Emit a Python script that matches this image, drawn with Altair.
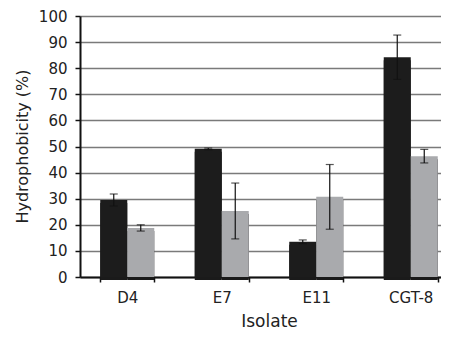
import altair as alt
import pandas as pd

isolates = ["D4", "E7", "E11", "CGT-8"]
series_names = ["A", "B"]
black_vals = [29.5, 49.1, 13.5, 84.2]
black_err = [2.3, 0.3, 0.7, 8.5]
gray_vals = [18.8, 25.3, 30.7, 46.3]
gray_err = [1.2, 10.7, 12.4, 2.6]
y_ticks = list(range(0, 101, 10))

rows = []
for i, iso in enumerate(isolates):
    rows.append({"iso": iso, "s": "A", "v": black_vals[i], "lo": black_vals[i] - black_err[i], "hi": black_vals[i] + black_err[i]})
    rows.append({"iso": iso, "s": "B", "v": gray_vals[i], "lo": gray_vals[i] - gray_err[i], "hi": gray_vals[i] + gray_err[i]})
df = pd.DataFrame(rows)

FONT = "DejaVu Sans"
xscale = alt.Scale(domain=isolates, range=[0, 378], paddingInner=0.4286, paddingOuter=0.2143)
xoff = alt.XOffset("s:N", scale=alt.Scale(domain=series_names, paddingInner=0, paddingOuter=0))
yscale = alt.Scale(domain=[0, 100], nice=False, zero=True)

x_axis = alt.Axis(title="Isolate", labelAngle=0, tickBand="extent", tickSize=5,
                  tickWidth=1.5, tickColor="#111", domainColor="#111", domainWidth=2,
                  labelFont=FONT, labelFontSize=15, labelColor="#222", labelPadding=8,
                  titleFont=FONT, titleFontSize=17, titleFontWeight="normal", titleColor="#222",
                  titleX=189, titleY=44, titleAlign="center", titleBaseline="middle",
                  grid=False)
y_axis = alt.Axis(title="Hydrophobicity (%)", values=y_ticks, labelOverlap=False,
                  tickSize=5, tickWidth=1.5,
                  tickColor="#111", domainColor="#111", domainWidth=2,
                  labelFont=FONT, labelFontSize=15, labelColor="#222", labelPadding=8,
                  titleFont=FONT, titleFontSize=16, titleFontWeight="normal", titleColor="#222",
                  titleAngle=-90, titleX=-58, titleY=130, titleAlign="center",
                  titleBaseline="middle",
                  grid=True, gridColor="#7a7a7a", gridWidth=1.5)

x_enc = alt.X("iso:N", scale=xscale, sort=isolates, axis=x_axis)
y_enc = alt.Y("v:Q", scale=yscale, axis=y_axis)

color = alt.Color("s:N", scale=alt.Scale(domain=series_names, range=["#1c1c1c", "#a9aaad"]), legend=None)

base = alt.Chart(df)
shadow = base.mark_bar(color="#1a1a1a", xOffset=3, yOffset=3).encode(
    x=x_enc, xOffset=xoff, y=y_enc)
bars = base.mark_bar().encode(x=x_enc, xOffset=xoff, y=y_enc, color=color)
rules = base.mark_rule(color="#111", strokeWidth=1.2).encode(
    x=x_enc, xOffset=xoff, y=alt.Y("lo:Q", scale=yscale, axis=y_axis), y2="hi:Q")
caps_hi = base.mark_tick(color="#111", size=8, thickness=1.2).encode(
    x=x_enc, xOffset=xoff, y=alt.Y("hi:Q", scale=yscale, axis=y_axis))
caps_lo = base.mark_tick(color="#111", size=8, thickness=1.2).encode(
    x=x_enc, xOffset=xoff, y=alt.Y("lo:Q", scale=yscale, axis=y_axis))

chart = alt.layer(shadow, bars, rules, caps_hi, caps_lo).properties(
    width=361, height=261,
    autosize=alt.AutoSizeParams(type="none"),
    padding={"left": 72, "top": 8, "right": 0, "bottom": 52},
    background="white",
).configure_view(stroke=None)

chart.save("out.html", embed_options={"renderer": "svg", "actions": False})
